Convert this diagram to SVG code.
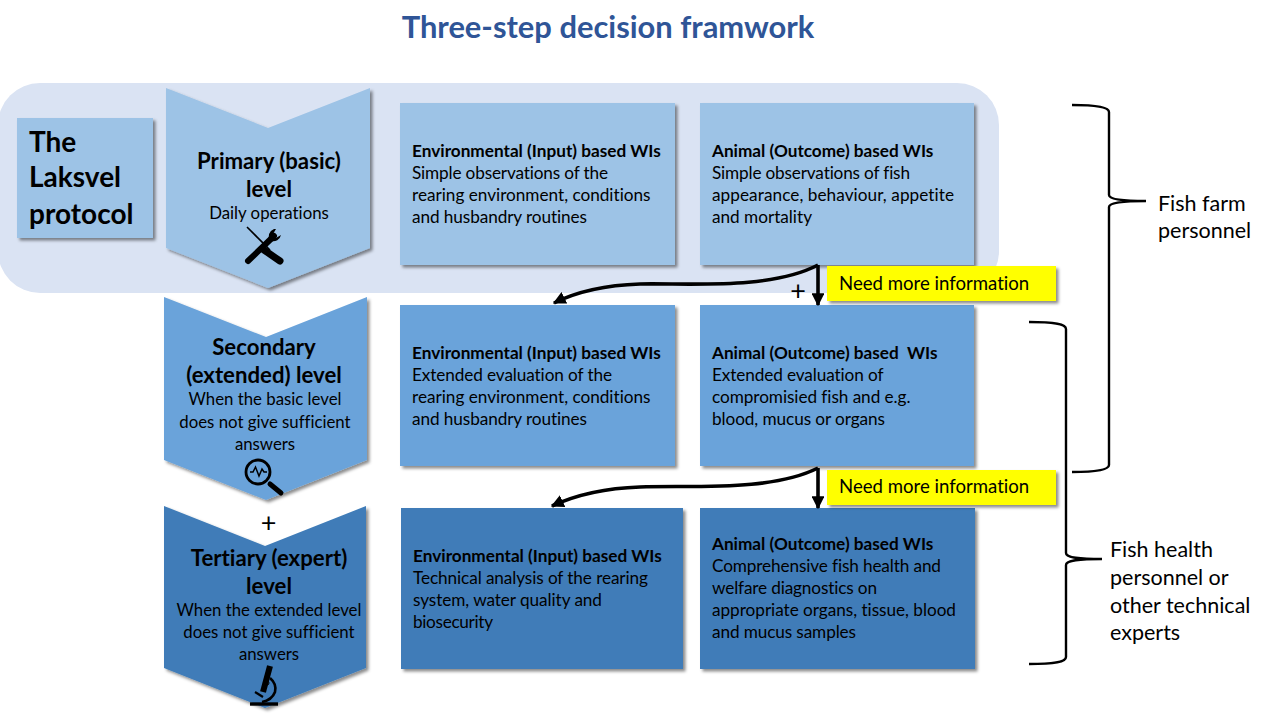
<svg xmlns="http://www.w3.org/2000/svg" width="1280" height="720" viewBox="0 0 1280 720">
<style>
text{font-family:Lato,"Liberation Sans",sans-serif;fill:#000;font-variant-ligatures:none}
.h{font-size:17.2px;font-weight:700}
.b{font-size:17.2px}
.lv{font-size:22.2px;font-weight:700;text-anchor:middle}
.sm{font-size:16.8px;text-anchor:middle}
.side{font-size:21.5px}
.c1{fill:#9dc3e6}.c2{fill:#6aa3da}.c3{fill:#3f7cb8}
.s{filter:url(#sh)}
.k{fill:none;stroke:#000;stroke-width:2.4}
.a{fill:none;stroke:#000;stroke-width:3.6}
.y{fill:#ffff00}
.yt{font-size:18.6px}
.pl{font-size:27px;text-anchor:middle}
.big{font-size:28px;font-weight:700}
</style>
<defs>
<filter id="sh" x="-10%" y="-10%" width="125%" height="125%"><feDropShadow dx="2.5" dy="2.5" stdDeviation="1.6" flood-color="#000" flood-opacity="0.45"/></filter>
<marker id="ah" viewBox="0 0 10 10" refX="9" refY="5" markerWidth="3.6" markerHeight="3.6" orient="auto"><path d="M0 0L10 5L0 10z" fill="#000"/></marker>
</defs>
<rect width="1280" height="720" fill="#fff"/>
<text id="title" x="608" y="38" text-anchor="middle" style="font-size:30.9px;font-weight:700;fill:#2f5597">Three-step decision framwork</text>
<rect id="band" x="-2" y="83" width="1001" height="210" rx="42" fill="#dae3f3"/>

<g id="protocol"><rect class="c1 s" x="17" y="118" width="136" height="120"/>
<text class="big" x="29" y="152">The</text><text class="big" x="29" y="187">Laksvel</text><text class="big" x="29" y="224">protocol</text></g>

<g id="primary"><path class="c1 s" d="M166 88L268 128L370 88V248L268 288L166 248Z"/>
<text class="lv" x="269" y="169">Primary (basic)</text><text class="lv" x="269" y="197">level</text><text class="sm" x="269" y="219">Daily operations</text>
<g id="tools"><path d="M247 227L270 250" stroke="#000" stroke-width="1.6" fill="none"/><path d="M264 250L280 261" stroke="#000" stroke-width="7" stroke-linecap="round" fill="none"/><path d="M248 261L274 236" stroke="#000" stroke-width="6" stroke-linecap="round" fill="none"/><path d="M270 241a8 8 0 0 1 4-12l2 0l-3 5l3 4l5-3a8 8 0 0 1-10 6z" fill="#000"/></g></g>

<g id="secondary"><path class="c2 s" d="M164 297L266 337L367 297V460L266 500L164 460Z"/>
<text class="lv" x="264" y="355">Secondary</text><text class="lv" x="264" y="383">(extended) level</text><text class="sm" x="265" y="405">When the basic level</text><text class="sm" x="265" y="428">does not give sufficient</text><text class="sm" x="265" y="450">answers</text>
<g id="magnifier"><circle cx="258" cy="472" r="12" fill="none" stroke="#000" stroke-width="2.8"/><path d="M250 472h3l2.500-5l3.500 9l3-7l2 3h3" fill="none" stroke="#000" stroke-width="1.5"/><path d="M270 484L281 493" stroke="#000" stroke-width="5" stroke-linecap="round"/></g></g>

<g id="tertiary"><path class="c3 s" d="M164 506L265 546L366 506V668L265 708L164 668Z"/>
<text class="lv" x="269" y="566">Tertiary (expert)</text><text class="lv" x="269" y="594">level</text><text class="sm" x="269" y="616">When the extended level</text><text class="sm" x="269" y="638">does not give sufficient</text><text class="sm" x="269" y="660">answers</text>
<g id="microscope"><path d="M250 704h28" stroke="#000" stroke-width="3.4"/><path d="M270 666L263 692" stroke="#000" stroke-width="6"/><circle cx="267" cy="683" r="2" fill="none" stroke="#000" stroke-width="1"/><path d="M270 678Q277 684 275 692Q272 700 262 702" fill="none" stroke="#000" stroke-width="2.6"/><path d="M255 692L263 697" stroke="#000" stroke-width="2.2"/></g></g>

<text id="plus3" class="pl" x="268.500" y="532">+</text>

<g id="r1a"><rect class="c1 s" x="400" y="103" width="275" height="162"/><text class="h" x="412" y="157">Environmental (Input) based WIs</text><text class="b" x="412" y="179" textLength="196">Simple observations of the</text><text class="b" x="412" y="201" textLength="238.500">rearing environment, conditions</text><text class="b" x="412" y="223" textLength="175">and husbandry routines</text></g>
<g id="r1b"><rect class="c1 s" x="700" y="103" width="274" height="162"/><text class="h" x="712" y="157">Animal (Outcome) based WIs</text><text class="b" x="712" y="179" textLength="198">Simple observations of fish</text><text class="b" x="712" y="201" textLength="242">appearance, behaviour, appetite</text><text class="b" x="712" y="223" textLength="100">and mortality</text></g>
<g id="r2a"><rect class="c2 s" x="400" y="305" width="275" height="161"/><text class="h" x="412" y="359">Environmental (Input) based WIs</text><text class="b" x="412" y="381" textLength="200">Extended evaluation of the</text><text class="b" x="412" y="403" textLength="238.500">rearing environment, conditions</text><text class="b" x="412" y="425" textLength="175">and husbandry routines</text></g>
<g id="r2b"><rect class="c2 s" x="700" y="305" width="274" height="161"/><text class="h" x="712" y="359" xml:space="preserve">Animal (Outcome) based  WIs</text><text class="b" x="712" y="381" textLength="171.500">Extended evaluation of</text><text class="b" x="712" y="403" textLength="198.500">compromisied fish and e.g.</text><text class="b" x="712" y="425" textLength="173">blood, mucus or organs</text></g>
<g id="r3a"><rect class="c3 s" x="401" y="508" width="282" height="161"/><text class="h" x="413" y="562">Environmental (Input) based WIs</text><text class="b" x="413" y="584" textLength="235">Technical analysis of the rearing</text><text class="b" x="413" y="606" textLength="189">system, water quality and</text><text class="b" x="413" y="628" textLength="80">biosecurity</text></g>
<g id="r3b"><rect class="c3 s" x="700" y="508" width="275" height="161"/><text class="h" x="712" y="550">Animal (Outcome) based WIs</text><text class="b" x="712" y="572" textLength="229">Comprehensive fish health and</text><text class="b" x="712" y="594" textLength="165">welfare diagnostics on</text><text class="b" x="712" y="616" textLength="244">appropriate organs, tissue, blood</text><text class="b" x="712" y="638" textLength="144">and mucus samples</text></g>

<g id="note1"><rect class="y s" x="827" y="266" width="229" height="35"/><text class="yt" x="839" y="290">Need more information</text></g>
<g id="note2"><rect class="y s" x="827" y="470" width="229" height="35"/><text class="yt" x="839" y="493">Need more information</text></g>
<text id="plus1" class="pl" x="798" y="300">+</text>

<g id="connectors">
<path class="a" marker-end="url(#ah)" d="M818 265V305"/>
<path class="a" marker-end="url(#ah)" d="M818 265C770 290 690 283 640 284C610 285 580 290 554 303"/>
<path class="a" marker-end="url(#ah)" d="M818 468V508"/>
<path class="a" marker-end="url(#ah)" d="M818 468C770 492 690 485 640 487C610 488 580 493 552 506"/>
</g>

<g id="brace1"><path class="k" d="M1072 105C1095 105 1109 107 1109 112V195C1109 199 1120 201 1146 201C1120 201 1109 203 1109 207V465C1109 470 1095 472 1072 472"/></g>
<g id="brace2"><path class="k" d="M1029 322C1055 322 1066 324 1066 329V553C1066 557 1075 559 1102 559C1075 559 1066 561 1066 565V657C1066 662 1055 664 1029 664"/></g>
<g id="side1"><text class="side" x="1158" y="211">Fish farm</text><text class="side" x="1158" y="238">personnel</text></g>
<g id="side2"><text class="side" x="1110" y="557">Fish health</text><text class="side" x="1110" y="585">personnel or</text><text class="side" x="1110" y="613">other technical</text><text class="side" x="1110" y="640">experts</text></g>
</svg>
